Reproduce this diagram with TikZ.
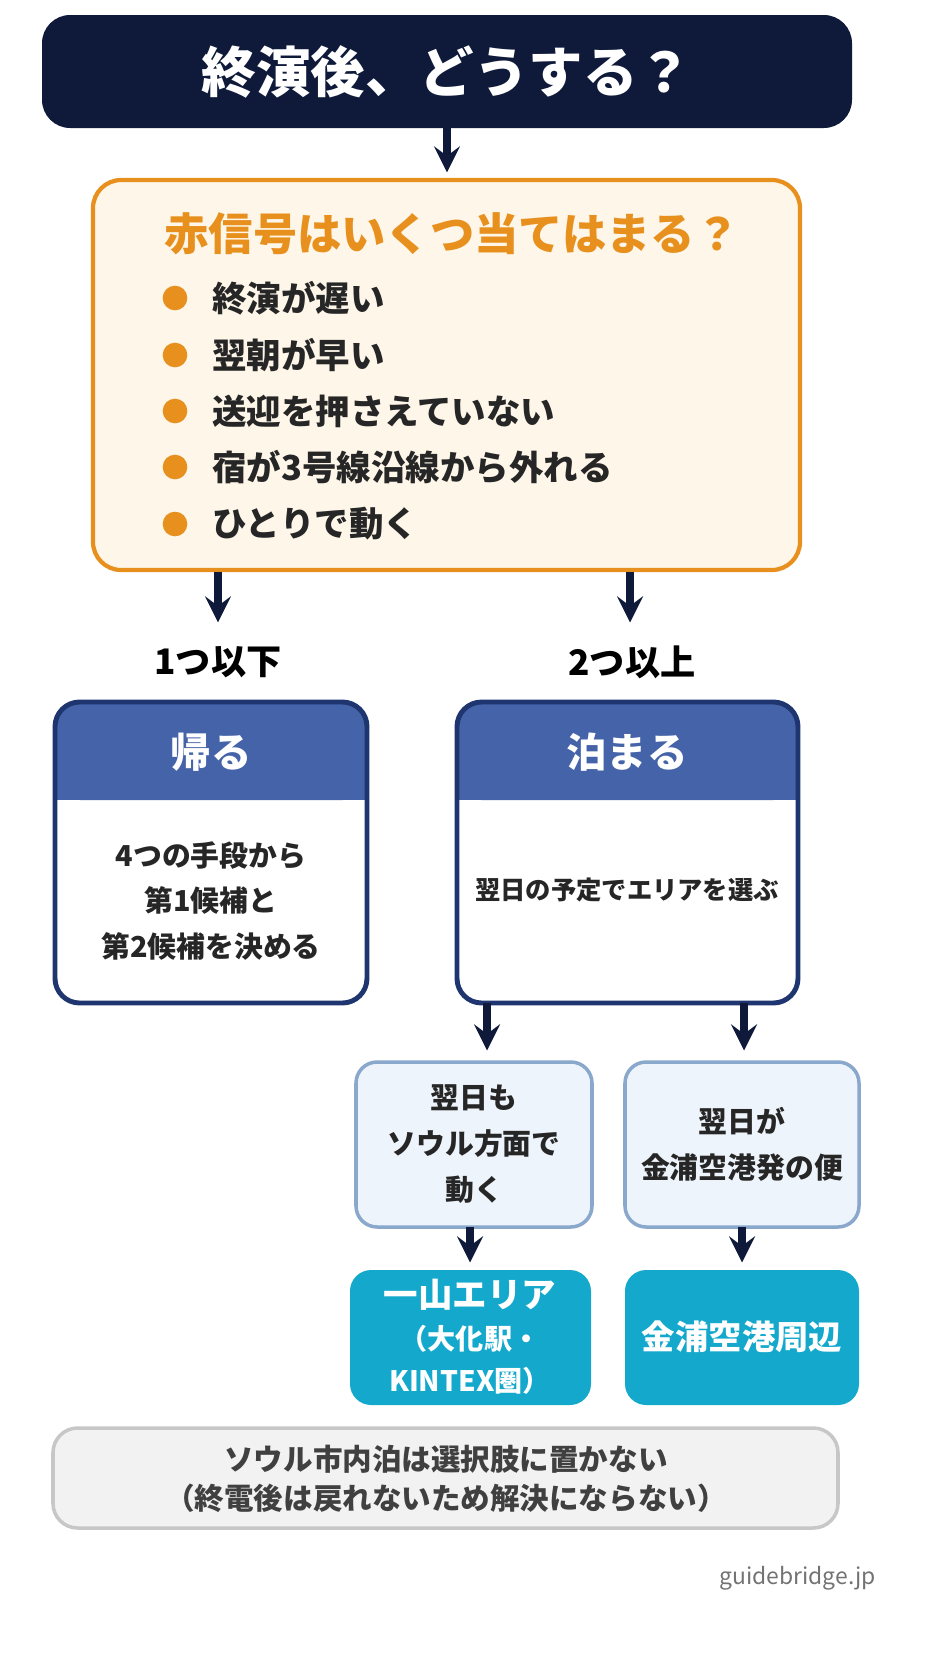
\documentclass[tikz,border=0pt]{standalone}
\usepackage{fontspec}
\setmainfont{Noto Sans CJK JP}
\usetikzlibrary{positioning}
\definecolor{navy}{HTML}{0F1A3A}
\definecolor{orng}{HTML}{E8901E}
\definecolor{orngbg}{HTML}{FDF6E9}
\definecolor{hdblue}{HTML}{4563A8}
\definecolor{bdblue}{HTML}{1F3570}
\definecolor{palebg}{HTML}{EEF4FB}
\definecolor{palebd}{HTML}{8AA8CC}
\definecolor{cyanbx}{HTML}{14A9CC}
\begin{document}
\begin{tikzpicture}[x=0.01cm, y=-0.01cm, >=stealth, line join=round]
	\tikzstyle{arr}   = [->, line width=2.2pt, navy, shorten >=1pt]
	\tikzstyle{bul}   = [circle, fill=orng, minimum size=7pt, inner sep=0pt]
	\tikzstyle{item}  = [anchor=west, font=\fontsize{9.8}{11}\selectfont\bfseries, text=black!85]
	\tikzstyle{body}  = [align=center, font=\fontsize{8.2}{13}\selectfont\bfseries, text=black!85]
	\tikzstyle{hdr}   = [font=\fontsize{11.5}{12}\selectfont\bfseries, text=white]
	\tikzstyle{pale}  = [draw=palebd, fill=palebg, line width=1pt, rounded corners=6pt]
	\tikzstyle{cyan}  = [fill=cyanbx, rounded corners=6pt]

	\useasboundingbox[fill=white] (0,0) rectangle (946,1663);

	% title
	\fill[navy, rounded corners=8pt] (42,15) rectangle (852,128);
	\node[font=\fontsize{15.5}{16}\selectfont\bfseries, text=white] (title) at (447,72) {終演後、どうする？};
	\coordinate (tbot) at (447,128);
	\coordinate (otop) at (447,176);
	\draw[arr] (tbot) -- (otop);

	% red signals
	\draw[orng, fill=orngbg, line width=1.2pt, rounded corners=8pt] (93,180) rectangle (800,570);
	\node[font=\fontsize{12.6}{13}\selectfont\bfseries, text=orng] (q) at (452,234) {赤信号はいくつ当てはまる？};
	\foreach \i/\y/\t in {1/298/終演が遅い, 2/355/翌朝が早い, 3/411/送迎を押さえていない, 4/467/宿が3号線沿線から外れる, 5/524/ひとりで動く}{
		\node[bul] (b\i) at (175,\y) {};
		\node[item] (t\i) at (200,\y) {\t};
	}

	% branches
	\coordinate (la) at (218,572);
	\coordinate (ra) at (630,572);
	\node[font=\fontsize{10}{11}\selectfont\bfseries] (few) at (218,662) {1つ以下};
	\node[font=\fontsize{10}{11}\selectfont\bfseries] (many) at (632,662) {2つ以上};
	\draw[arr] (la) -- (218,626);
	\draw[arr] (ra) -- (630,626);

	% go home
	\fill[hdblue, rounded corners=7pt] (55,702) rectangle (367,800);
	\fill[hdblue] (55,760) rectangle (367,800);
	\draw[bdblue, line width=1.4pt, rounded corners=7pt] (55,702) rectangle (367,1003);
	\node[hdr] (home) at (211,752) {帰る};
	\node[body] (homet) at (211,901) {4つの手段から\\第1候補と\\第2候補を決める};

	% stay
	\fill[hdblue, rounded corners=7pt] (457,702) rectangle (798,800);
	\fill[hdblue] (457,760) rectangle (798,800);
	\draw[bdblue, line width=1.4pt, rounded corners=7pt] (457,702) rectangle (798,1003);
	\node[hdr] (stay) at (627,752) {泊まる};
	\node[body, font=\fontsize{7.2}{10}\selectfont\bfseries] (stayt) at (627,890) {翌日の予定でエリアを選ぶ};

	\coordinate (s1) at (487,1003);
	\coordinate (s2) at (744,1003);
	\draw[arr] (s1) -- (487,1054);
	\draw[arr] (s2) -- (744,1054);

	\draw[pale] (356,1062) rectangle (592,1227);
	\node[body] (seoul) at (474,1144) {翌日も\\ソウル方面で\\動く};
	\draw[pale] (625,1062) rectangle (859,1227);
	\node[body] (gimpo) at (742,1144) {翌日が\\金浦空港発の便};

	\coordinate (p1) at (470,1227);
	\coordinate (p2) at (742,1227);
	\draw[arr] (p1) -- (470,1266);
	\draw[arr] (p2) -- (742,1266);

	\fill[cyan] (350,1270) rectangle (591,1405);
	\node[align=center, text=white, font=\fontsize{8}{12}\selectfont\bfseries] (ilsan) at (470,1337)
		{{\fontsize{9.8}{12}\selectfont 一山エリア}\\（大化駅・\\KINTEX圏）};
	\fill[cyan] (625,1270) rectangle (859,1405);
	\node[text=white, font=\fontsize{9.5}{12}\selectfont\bfseries] (gimpoa) at (742,1337) {金浦空港周辺};

	% note
	\draw[black!22, fill=black!5, line width=1pt, rounded corners=7pt] (53,1428) rectangle (838,1528);
	\node[body, font=\fontsize{8.4}{11}\selectfont\bfseries, text=black!75] (note) at (446,1479)
		{ソウル市内泊は選択肢に置かない\\（終電後は戻れないため解決にならない）};

	\node[anchor=east, text=black!55, font=\fontsize{6.5}{7}\selectfont] (url) at (888,1578) {guidebridge.jp};
\end{tikzpicture}
\end{document}
